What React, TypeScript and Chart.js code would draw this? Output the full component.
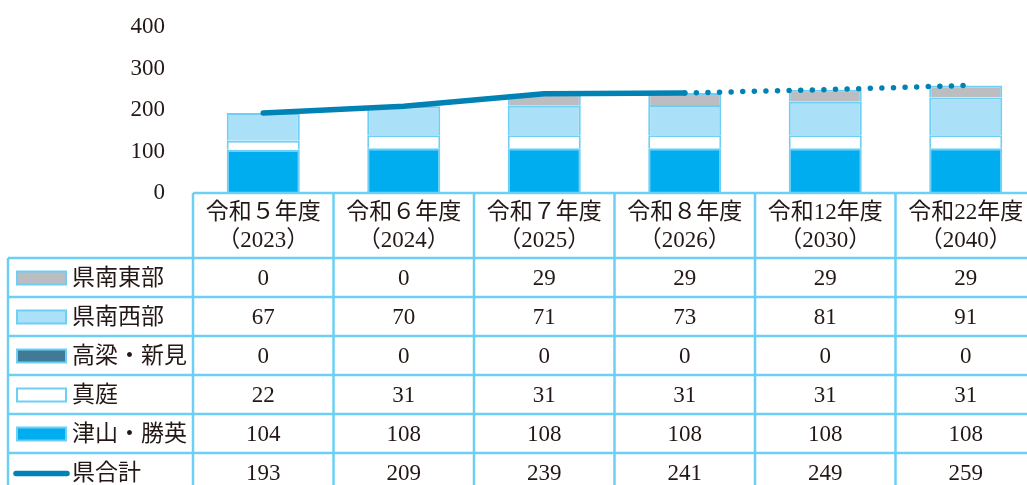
import React, { useEffect, useRef } from "react";
import { Chart, registerables } from "chart.js";

Chart.register(...registerables);

const yearLabels = ["令和５年度", "令和６年度", "令和７年度", "令和８年度", "令和12年度", "令和22年度"];
const yearSubLabels = ["（2023）", "（2024）", "（2025）", "（2026）", "（2030）", "（2040）"];

const tsuyamaShoei = [104, 108, 108, 108, 108, 108];
const maniwa = [22, 31, 31, 31, 31, 31];
const takahashiNiimi = [0, 0, 0, 0, 0, 0];
const kennanSeibu = [67, 70, 71, 73, 81, 91];
const kennanTobu = [0, 0, 29, 29, 29, 29];
const kenTotal = [193, 209, 239, 241, 249, 259];

const yTicks = [0, 100, 200, 300, 400];

const BORDER = "#6dcff6";
const LINE = "#0083b4";
const TEXT = "#231815";
const FONT = '23px "Liberation Serif", "Noto Sans CJK JP", serif';

type Row = { name: string; values: number[]; color: string; kind: "bar" | "line" };

const tableRows: Row[] = [
  { name: "県南東部", values: kennanTobu, color: "#bcbdc0", kind: "bar" },
  { name: "県南西部", values: kennanSeibu, color: "#abe0f9", kind: "bar" },
  { name: "高梁・新見", values: takahashiNiimi, color: "#3f7b96", kind: "bar" },
  { name: "真庭", values: maniwa, color: "#ffffff", kind: "bar" },
  { name: "津山・勝英", values: tsuyamaShoei, color: "#00aeef", kind: "bar" },
  { name: "県合計", values: kenTotal, color: LINE, kind: "line" },
];

const tablePlugin = {
  id: "dataTable",
  afterDraw(chart: any) {
    const ctx = chart.ctx as CanvasRenderingContext2D;
    const x = chart.scales.x;
    const area = chart.chartArea;
    const n = yearLabels.length;
    const colW = (area.right - area.left) / n;
    const left = 8;
    const headTop = area.bottom;
    const rowTop = 258;
    const rowH = 39;
    const H = chart.height;
    ctx.save();
    ctx.strokeStyle = BORDER;
    ctx.lineWidth = 2.5;
    ctx.beginPath();
    ctx.moveTo(area.left, headTop);
    ctx.lineTo(chart.width, headTop);
    for (let r = 0; r <= tableRows.length; r++) {
      const y = rowTop + r * rowH;
      ctx.moveTo(left, y);
      ctx.lineTo(chart.width, y);
    }
    ctx.moveTo(left, rowTop);
    ctx.lineTo(left, H);
    for (let c = 0; c <= n; c++) {
      const xx = area.left + c * colW;
      ctx.moveTo(xx, headTop);
      ctx.lineTo(xx, H);
    }
    ctx.stroke();

    ctx.fillStyle = TEXT;
    ctx.font = FONT;
    ctx.textAlign = "center";
    ctx.textBaseline = "middle";
    for (let i = 0; i < n; i++) {
      const cx = x.getPixelForValue(i);
      ctx.fillText(yearLabels[i], cx, 213);
      ctx.fillText(yearSubLabels[i], cx, 241);
    }
    tableRows.forEach((row, r) => {
      const cy = rowTop + r * rowH + rowH / 2 + 1;
      ctx.textAlign = "center";
      ctx.fillStyle = TEXT;
      row.values.forEach((v, i) => {
        ctx.fillText(String(v), x.getPixelForValue(i), cy);
      });
      if (row.kind === "bar") {
        ctx.fillStyle = row.color;
        ctx.fillRect(17, cy - 7, 49, 13);
        ctx.strokeStyle = BORDER;
        ctx.lineWidth = 2;
        ctx.strokeRect(17, cy - 7, 49, 13);
      } else {
        ctx.strokeStyle = row.color;
        ctx.lineWidth = 5.5;
        ctx.lineCap = "round";
        ctx.beginPath();
        ctx.moveTo(16, cy);
        ctx.lineTo(67, cy);
        ctx.stroke();
        ctx.lineCap = "butt";
      }
      ctx.fillStyle = TEXT;
      ctx.textAlign = "left";
      ctx.fillText(row.name, 72, cy);
    });
    ctx.restore();
  },
};

export default function App() {
  const ref = useRef<HTMLCanvasElement>(null);
  useEffect(() => {
    if (!ref.current) return;
    const barDs = (label: string, data: number[], color: string) => ({
      type: "bar" as const,
      label,
      data,
      backgroundColor: color,
      borderColor: BORDER,
      borderWidth: 2,
      stack: "s",
      order: 2,
      barPercentage: 0.52,
      categoryPercentage: 1,
    });
    const chart = new Chart(ref.current, {
      type: "bar",
      data: {
        labels: yearLabels,
        datasets: [
          barDs("津山・勝英", tsuyamaShoei, "#00aeef"),
          barDs("真庭", maniwa, "#ffffff"),
          barDs("高梁・新見", takahashiNiimi, "#3f7b96"),
          barDs("県南西部", kennanSeibu, "#abe0f9"),
          barDs("県南東部", kennanTobu, "#bcbdc0"),
          {
            type: "line" as const,
            label: "県合計",
            data: kenTotal,
            borderColor: LINE,
            borderWidth: 5.5,
            pointRadius: 0,
            tension: 0,
            borderCapStyle: "round",
            borderJoinStyle: "round",
            order: 0,
            segment: {
              borderDash: (c: any) => (c.p0DataIndex >= 3 ? [0, 11.6] : undefined),
            },
          } as any,
        ],
      },
      options: {
        responsive: false,
        animation: false,
        layout: { padding: { top: 27, bottom: 292, left: 0, right: 0 } },
        plugins: { legend: { display: false }, tooltip: { enabled: false } },
        scales: {
          x: { display: false, stacked: true },
          y: {
            stacked: true,
            min: 0,
            max: 400,
            afterBuildTicks: (s: any) => {
              s.ticks = yTicks.map((v) => ({ value: v }));
            },
            afterFit: (s: any) => {
              s.width = 193;
              s.paddingTop = 0;
              s.paddingBottom = 0;
            },
            grid: { display: false, drawTicks: false },
            border: { display: false },
            ticks: {
              padding: 28,
              color: TEXT,
              font: { family: '"Liberation Serif", serif', size: 23 },
            },
          },
        },
      },
      plugins: [tablePlugin],
    });
    return () => chart.destroy();
  }, []);
  return (
    <div style={{ position: "absolute", left: 0, top: 0, width: 1027, height: 485, overflow: "hidden", background: "#fff" }}>
      <canvas ref={ref} width={1036} height={485} style={{ display: "block" }} />
    </div>
  );
}
